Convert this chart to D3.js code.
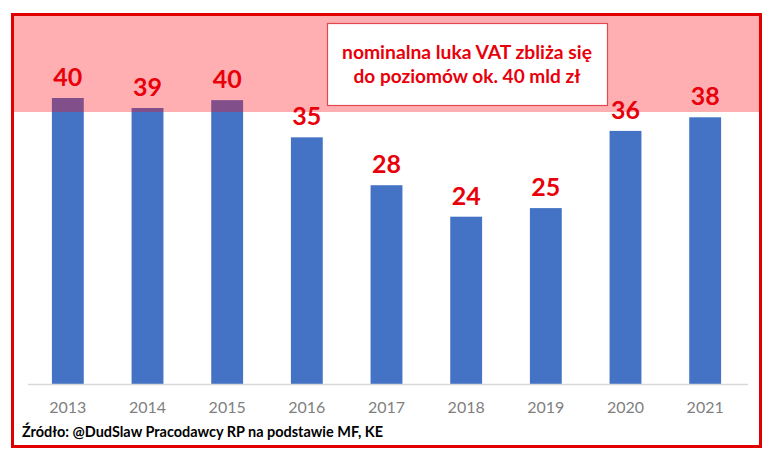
<!DOCTYPE html>
<html>
<head>
<meta charset="utf-8">
<script src="https://cdn.jsdelivr.net/npm/d3@7"></script>
<style>
  body { margin: 0; background: #fff; }
  svg { display: block; font-family: Lato, "Open Sans", sans-serif; }
</style>
</head>
<body>
<div id="chart"></div>
<script>
// --- data ---
const years = ["2013", "2014", "2015", "2016", "2017", "2018", "2019", "2020", "2021"];
const gapValues = [40.0, 38.6, 39.7, 34.5, 27.8, 23.4, 24.6, 35.4, 37.3];
const gapLabels = ["40", "39", "40", "35", "28", "24", "25", "36", "38"];
const noteLines = ["nominalna luka VAT zbliża się", "do poziomów ok. 40 mld zł"];
const sourceText = "Źródło: @DudSlaw Pracodawcy RP na podstawie MF, KE";

const width = 777;
const height = 464;

const svg = d3.select("#chart").append("svg")
  .attr("width", width)
  .attr("height", height);

const x = d3.scaleBand()
  .domain(years)
  .range([28, 745])
  .paddingInner(0.6)
  .paddingOuter(0.3);

const y = d3.scaleLinear()
  .domain([0, 40])
  .range([384, 98]);

// bars
svg.selectAll("rect.bar")
  .data(years)
  .enter()
  .append("rect")
  .attr("class", "bar")
  .attr("x", d => x(d))
  .attr("width", x.bandwidth())
  .attr("y", (d, i) => y(gapValues[i]))
  .attr("height", (d, i) => y(0) - y(gapValues[i]))
  .attr("fill", "#4472c4");

// baseline
svg.append("line")
  .attr("x1", 28).attr("x2", 748)
  .attr("y1", y(0) + 0.5).attr("y2", y(0) + 0.5)
  .attr("stroke", "#d9d9d9")
  .attr("stroke-width", 1.5);

// translucent red band across the top (turns the bar tops purple)
svg.append("rect")
  .attr("x", 12).attr("y", 14)
  .attr("width", 748).attr("height", 98)
  .attr("fill", "rgb(255,8,20)")
  .attr("fill-opacity", 0.33);

// value labels
svg.selectAll("text.value")
  .data(years)
  .enter()
  .append("text")
  .attr("class", "value")
  .attr("x", d => x(d) + x.bandwidth() / 2)
  .attr("y", (d, i) => y(gapValues[i]) - 12)
  .attr("text-anchor", "middle")
  .attr("font-size", 25)
  .attr("font-weight", "bold")
  .attr("fill", "#e8000b")
  .text((d, i) => gapLabels[i]);

// year axis
const xAxis = svg.append("g")
  .attr("transform", `translate(0, ${y(0)})`)
  .call(d3.axisBottom(x).tickSize(0).tickPadding(18));
xAxis.select(".domain").remove();
xAxis.selectAll("text")
  .attr("font-family", "Lato, sans-serif")
  .attr("font-size", 16)
  .attr("fill", "#7f7f7f");

// annotation box
svg.append("rect")
  .attr("x", 327.5).attr("y", 23.5)
  .attr("width", 280).attr("height", 82)
  .attr("fill", "#fff")
  .attr("stroke", "#e2484f")
  .attr("stroke-width", 1.2);

svg.selectAll("text.note")
  .data(noteLines)
  .enter()
  .append("text")
  .attr("class", "note")
  .attr("x", 467)
  .attr("y", (d, i) => 59 + i * 24)
  .attr("text-anchor", "middle")
  .attr("font-size", 18)
  .attr("font-weight", "bold")
  .attr("fill", "#e8000b")
  .attr("textLength", (d, i) => i === 0 ? 250 : 227)
  .attr("lengthAdjust", "spacingAndGlyphs")
  .text(d => d);

// source line
svg.append("text")
  .attr("x", 22)
  .attr("y", 437)
  .attr("font-size", 14.5)
  .attr("font-weight", "bold")
  .attr("fill", "#000")
  .attr("textLength", 361)
  .attr("lengthAdjust", "spacingAndGlyphs")
  .text(sourceText);

// red frame
svg.append("rect")
  .attr("x", 12.5).attr("y", 14.5)
  .attr("width", 748).attr("height", 432)
  .attr("fill", "none")
  .attr("stroke", "#e00000")
  .attr("stroke-width", 3);
</script>
</body>
</html>
